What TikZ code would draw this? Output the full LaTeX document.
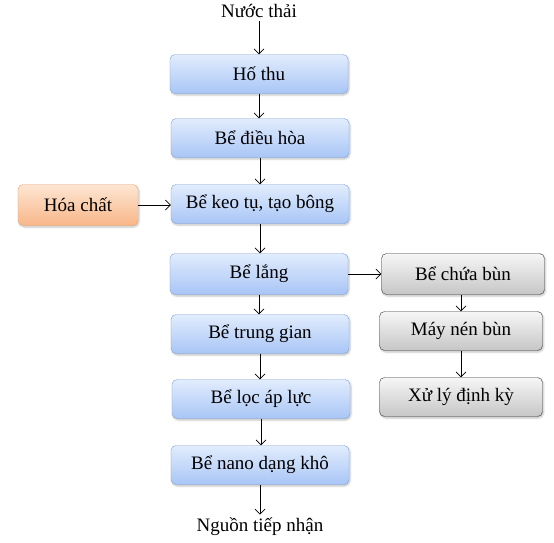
\documentclass[tikz,border=0pt]{standalone}
\usepackage{fontspec}
\setmainfont{Liberation Serif}
\usepackage{tikz}
\usetikzlibrary{
    arrows.meta,
    shadows.blur,
    positioning
}
\definecolor{blueTop}{HTML}{E2ECFD}
\definecolor{blueBot}{HTML}{A8C5F6}
\definecolor{blueLine}{HTML}{7FA3DC}
\definecolor{orangeTop}{HTML}{FDE6D3}
\definecolor{orangeBot}{HTML}{F8B688}
\definecolor{orangeLine}{HTML}{EBA672}
\definecolor{greyTop}{HTML}{F6F6F6}
\definecolor{greyBot}{HTML}{C6C6C6}
\definecolor{greyLine}{HTML}{3A3A3A}
\tikzset{
    box/.style={rounded corners=5pt, minimum height=39pt, inner sep=0pt,
        blur shadow={shadow xshift=1pt, shadow yshift=-1.5pt, shadow blur steps=4, shadow opacity=25}},
    bluebox/.style={box, draw=blueLine, top color=blueTop, bottom color=blueBot, minimum width=178pt},
    orangebox/.style={box, draw=orangeLine, top color=orangeTop, bottom color=orangeBot, minimum width=120pt},
    greybox/.style={box, draw=greyLine, top color=greyTop, bottom color=greyBot, minimum width=163pt},
    flow/.style={-{Straight Barb[length=5pt,width=10pt]}, line width=0.7pt}
}
\begin{document}
\begin{tikzpicture}[x=1pt, y=-1pt, font=\fontsize{19}{22}\selectfont]
    \useasboundingbox (0, 0) rectangle (554, 542);
    % main line
    \node (nuoc) at (259, 11) {Nước thải};
    \node[bluebox] (ho) at (259, 74) {Hố thu};
    \node[bluebox] (dieuhoa) at (260, 138) {Bể điều hòa};
    \node[bluebox] (keo) at (260, 204) {Bể keo tụ, tạo bông};
    \node[bluebox, minimum height=41pt] (lang) at (259, 274) {Bể lắng};
    \node[bluebox] (trunggian) at (260, 334) {Bể trung gian};
    \node[bluebox] (loc) at (261, 399) {Bể lọc áp lực};
    \node[bluebox] (nano) at (260, 465) {Bể nano dạng khô};
    \node (nguon) at (260, 527) {Nguồn tiếp nhận};
    % chemicals
    \node[orangebox, minimum height=41pt] (hoachat) at (78, 205) {Hóa chất};
    % sludge line
    \node[greybox, minimum height=41pt] (chua) at (463, 274) {Bể chứa bùn};
    \node[greybox] (may) at (461, 331) {Máy nén bùn};
    \node[greybox] (xuly) at (461, 397) {Xử lý định kỳ};

    \draw[flow] (nuoc) -- (ho);
    \draw[flow] (ho) -- (ho |- dieuhoa.north);
    \draw[flow] (dieuhoa) -- (dieuhoa |- keo.north);
    \draw[flow] (keo) -- (keo |- lang.north);
    \draw[flow] (lang) -- (lang |- trunggian.north);
    \draw[flow] (trunggian) -- (trunggian |- loc.north);
    \draw[flow] (loc) -- (loc |- nano.north);
    \draw[flow] (nano) -- (nguon);
    \draw[flow] (hoachat) -- (hoachat -| keo.west);
    \draw[flow] (lang) -- (chua);
    \draw[flow] (may |- chua.south) -- (may);
    \draw[flow] (may) -- (xuly);
\end{tikzpicture}
\end{document}
